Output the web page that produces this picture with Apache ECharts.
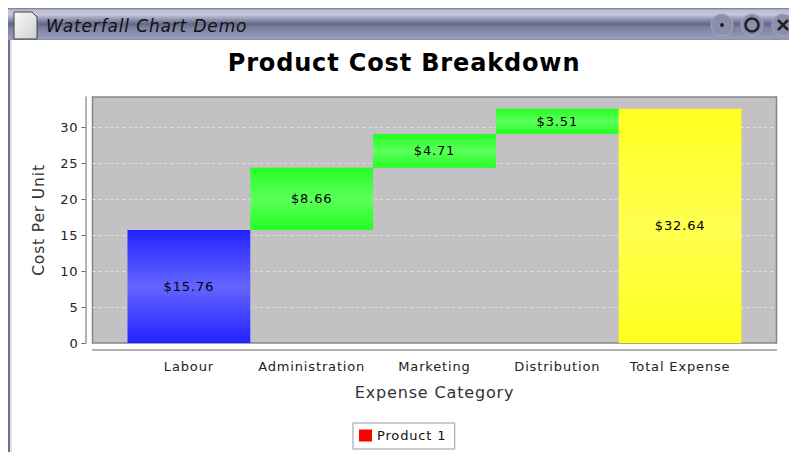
<!DOCTYPE html>
<html><head><meta charset="utf-8">
<style>html,body{margin:0;padding:0;background:#fff;overflow:hidden}#c{width:789px;height:452px;letter-spacing:0.85px}</style>
<script src="https://cdn.jsdelivr.net/npm/echarts@6/dist/echarts.min.js"></script>
</head><body><div id="c"></div>
<script>
const categories = ['Labour','Administration','Marketing','Distribution','Total Expense'];
const baseValues = [0, 15.76, 24.42, 29.13, 0];
const costValues = [15.76, 8.66, 4.71, 3.51, 32.64];
const edgeColors = ['#2323ff','#23ff23','#23ff23','#23ff23','#ffff1e'];
const midColors  = ['#6464ff','#5cff5c','#5cff5c','#5cff5c','#ffff50'];
const yTicks = [0,5,10,15,20,25,30];
const yMax = 34.28;
const font = 'DejaVu Sans';
const chart = echarts.init(document.getElementById('c'), null, {renderer:'svg'});
const grad = (a,b)=>new echarts.graphic.LinearGradient(0,0,0,1,[{offset:0,color:a},{offset:0.5,color:b},{offset:1,color:a}]);
chart.setOption({
  animation:false,
  backgroundColor:'#fff',
  title:{text:'Product Cost Breakdown',left:399,top:46,textAlign:'center',
    textStyle:{fontFamily:font,fontWeight:'bold',fontSize:24,color:'#000'}},
  legend:{data:['Product 1'],left:353,top:423,orient:'horizontal',icon:'rect',itemWidth:13,itemHeight:12,itemGap:0,
    padding:[6,16,7,6],borderColor:'#999',borderWidth:1,backgroundColor:'#fff',
    textStyle:{fontFamily:font,fontSize:13,color:'#111',padding:[0,0,0,0]}},
  grid:[
    {left:92.5,top:97,width:684,height:246,show:true,backgroundColor:'#c4c1c5',borderColor:'#858585',borderWidth:1.5},
    {left:127.5,top:97,width:614,height:246,show:false}
  ],
  xAxis:[
    {type:'category',gridIndex:0,data:categories,offset:7,
     axisLine:{show:true,onZero:false,lineStyle:{color:'#999',width:1.5}},axisTick:{show:false},axisLabel:{show:false},splitLine:{show:false}},
    {type:'category',gridIndex:1,data:categories,
     axisLine:{show:false},axisTick:{show:false},
     axisLabel:{interval:0,margin:17,fontFamily:font,fontSize:13,color:'#222'},
     name:'Expense Category',nameLocation:'middle',nameGap:41,
     nameTextStyle:{fontFamily:font,fontSize:16,color:'#333'}}
  ],
  yAxis:[
    {type:'value',gridIndex:0,min:0,max:yMax,interval:5,offset:7,
     axisLine:{show:true,lineStyle:{color:'#999',width:1.5}},
     axisTick:{show:true,length:4,lineStyle:{color:'#666'},customValues:yTicks},
     axisLabel:{margin:7,fontFamily:font,fontSize:13,color:'#222',customValues:yTicks},
     splitLine:{show:true,showMinLine:false,lineStyle:{type:[3,3],color:'#e2e2e2',width:1}},
     name:'Cost Per Unit',nameLocation:'middle',nameGap:39,
     nameTextStyle:{fontFamily:font,fontSize:15.5,color:'#333'}},
    {type:'value',gridIndex:1,min:0,max:yMax,show:false,splitLine:{show:false}}
  ],
  series:[
    {name:'base',type:'bar',stack:'w',xAxisIndex:1,yAxisIndex:1,barWidth:'100%',data:baseValues,
     itemStyle:{color:'transparent'},silent:true},
    {name:'Product 1',type:'bar',stack:'w',xAxisIndex:1,yAxisIndex:1,barWidth:'100%',
     itemStyle:{color:'#ff0000'},
     data:costValues.map((v,i)=>({value:v,itemStyle:{color:grad(edgeColors[i],midColors[i])}})),
     label:{show:true,position:'inside',formatter:p=>'$'+p.value.toFixed(2),fontFamily:font,fontSize:13,color:'#000'}}
  ],
  graphic:[
    {type:'rect',silent:true,shape:{x:8,y:40,width:2,height:412},style:{fill:'#70708f'}},
    {type:'rect',silent:true,shape:{x:10,y:40,width:2,height:412},style:{fill:'#e2e2ec'}},
    {type:'rect',silent:true,shape:{x:8,y:8,width:781,height:32},style:{fill:new echarts.graphic.LinearGradient(0,0,0,1,[
      {offset:0,color:'#6f6f90'},{offset:0.06,color:'#b9bbd0'},{offset:0.2,color:'#c6c8da'},{offset:0.5,color:'#62678a'},{offset:0.62,color:'#7d819f'},{offset:0.95,color:'#989bbc'},{offset:1,color:'#8a8caa'}])}},
    {type:'polygon',silent:true,shape:{points:[[14,12],[32,12],[37,17],[37,39],[14,39]]},style:{fill:new echarts.graphic.LinearGradient(0,0,1,1,[{offset:0,color:'#fafafa'},{offset:1,color:'#cfcfcf'}]),stroke:'#444',lineWidth:1}},
    {type:'text',silent:true,style:{x:46,y:17,text:'Waterfall Chart Demo',font:'italic 17px "DejaVu Sans"',fill:'#111'}},
    {type:'circle',silent:true,shape:{cx:722,cy:25,r:11},style:{fill:'#8c8fac',stroke:'#a6a8c0',lineWidth:1}},
    {type:'circle',silent:true,shape:{cx:722,cy:25,r:2},style:{fill:'#222'}},
    {type:'circle',silent:true,shape:{cx:752,cy:25,r:11},style:{fill:'#8c8fac',stroke:'#a6a8c0',lineWidth:1}},
    {type:'circle',silent:true,shape:{cx:752,cy:25,r:6.5},style:{fill:'none',stroke:'#222',lineWidth:2.5}},
    {type:'circle',silent:true,shape:{cx:783,cy:25,r:11},style:{fill:'#8c8fac',stroke:'#a6a8c0',lineWidth:1}},
    {type:'line',silent:true,shape:{x1:778,y1:20,x2:788,y2:30},style:{stroke:'#222',lineWidth:2.5}},
    {type:'line',silent:true,shape:{x1:788,y1:20,x2:778,y2:30},style:{stroke:'#222',lineWidth:2.5}}
  ]
});
</script></body></html>
